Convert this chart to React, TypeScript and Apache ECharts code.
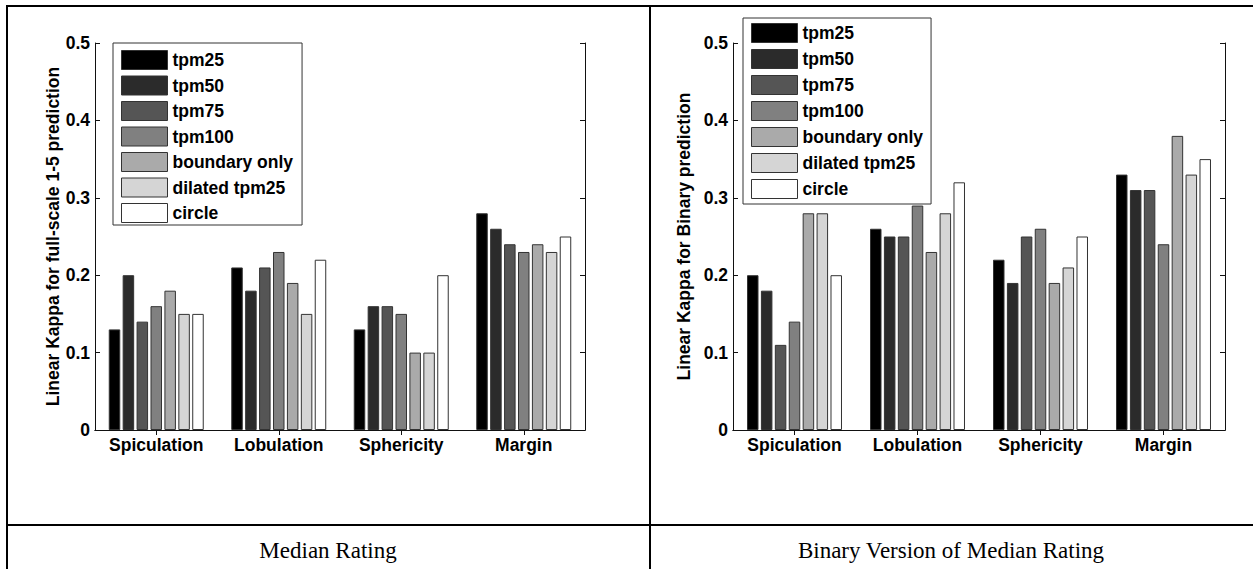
import React, { useEffect, useRef } from "react";
import * as echarts from "echarts";

const categories = ["Spiculation", "Lobulation", "Sphericity", "Margin"];
const seriesNames = ["tpm25", "tpm50", "tpm75", "tpm100", "boundary only", "dilated tpm25", "circle"];
const seriesColors = ["#000000", "#2b2b2b", "#555555", "#808080", "#aaaaaa", "#d5d5d5", "#ffffff"];

// Median Rating (full-scale 1-5)
const medianTpm25 = [0.13, 0.21, 0.13, 0.28];
const medianTpm50 = [0.2, 0.18, 0.16, 0.26];
const medianTpm75 = [0.14, 0.21, 0.16, 0.24];
const medianTpm100 = [0.16, 0.23, 0.15, 0.23];
const medianBoundary = [0.18, 0.19, 0.1, 0.24];
const medianDilated = [0.15, 0.15, 0.1, 0.23];
const medianCircle = [0.15, 0.22, 0.2, 0.25];

// Binary Version of Median Rating
const binaryTpm25 = [0.2, 0.26, 0.22, 0.33];
const binaryTpm50 = [0.18, 0.25, 0.19, 0.31];
const binaryTpm75 = [0.11, 0.25, 0.25, 0.31];
const binaryTpm100 = [0.14, 0.29, 0.26, 0.24];
const binaryBoundary = [0.28, 0.23, 0.19, 0.38];
const binaryDilated = [0.28, 0.28, 0.21, 0.33];
const binaryCircle = [0.2, 0.32, 0.25, 0.35];

const yTicks = [0, 0.1, 0.2, 0.3, 0.4, 0.5];
const leftTitle = "Linear Kappa for full-scale 1-5 prediction";
const rightTitle = "Linear Kappa for Binary prediction";
const captions = ["Median Rating", "Binary Version of Median Rating"];

const medianData = [medianTpm25, medianTpm50, medianTpm75, medianTpm100, medianBoundary, medianDilated, medianCircle];
const binaryData = [binaryTpm25, binaryTpm50, binaryTpm75, binaryTpm100, binaryBoundary, binaryDilated, binaryCircle];

const FONT = "'Liberation Sans', Arial, sans-serif";
const AX = "#111";

export default function App() {
  const ref = useRef<HTMLDivElement>(null);
  useEffect(() => {
    if (!ref.current) return;
    const chart = echarts.init(ref.current, undefined, { renderer: "svg" });

    const grids = [
      { left: 95, top: 43, width: 490, height: 387 },
      { left: 733, top: 43, width: 492, height: 387 },
    ];

    const xAxes: any[] = [];
    const yAxes: any[] = [];
    [0, 1].forEach((g) => {
      xAxes.push({
        type: "category",
        gridIndex: g,
        data: categories,
        position: "bottom",
        axisLine: { lineStyle: { color: AX, width: 1 } },
        axisTick: { show: false },
        axisLabel: { interval: 0, color: "#000", fontFamily: FONT, fontWeight: "bold", fontSize: 17.5, margin: 6 },
      });
      xAxes.push({
        type: "category",
        gridIndex: g,
        data: categories,
        position: "top",
        axisLine: { lineStyle: { color: AX, width: 1 } },
        axisTick: { show: true, inside: true, alignWithLabel: true, interval: 0, length: 5, lineStyle: { color: AX } },
        axisLabel: { show: false, interval: 0 },
      });
      yAxes.push({
        type: "value",
        gridIndex: g,
        min: yTicks[0],
        max: yTicks[yTicks.length - 1],
        interval: 0.1,
        position: "left",
        name: g === 0 ? leftTitle : rightTitle,
        nameLocation: "middle",
        nameGap: g === 0 ? 33 : 40,
        nameTextStyle: { color: "#000", fontFamily: FONT, fontWeight: "bold", fontSize: 17.5 },
        axisLine: { show: true, lineStyle: { color: AX, width: 1 } },
        axisTick: { show: true, inside: true, length: 5, lineStyle: { color: AX } },
        splitLine: { show: false },
        axisLabel: {
          color: "#000",
          fontFamily: FONT,
          fontWeight: "bold",
          fontSize: 17.5,
          margin: 5,
          formatter: (v: number) => (v === 0 ? "0" : v.toFixed(1)),
        },
      });
      yAxes.push({
        type: "value",
        gridIndex: g,
        min: yTicks[0],
        max: yTicks[yTicks.length - 1],
        interval: 0.1,
        position: "right",
        axisLine: { show: true, lineStyle: { color: AX, width: 1 } },
        axisTick: { show: true, inside: true, length: 5, lineStyle: { color: AX } },
        splitLine: { show: false },
        axisLabel: { show: false },
      });
    });

    const series: any[] = [];
    [medianData, binaryData].forEach((data, g) => {
      data.forEach((vals, i) => {
        series.push({
          type: "bar",
          name: seriesNames[i],
          xAxisIndex: g * 2,
          yAxisIndex: g * 2,
          data: vals,
          barWidth: 11.5,
          barGap: "21%",
          itemStyle: { color: seriesColors[i], borderColor: "#333", borderWidth: 1 },
          emphasis: { disabled: true },
        });
      });
    });

    const legendCommon = {
      orient: "vertical",
      data: seriesNames,
      icon: "rect",
      itemWidth: 46,
      itemHeight: 19,
      backgroundColor: "#fff",
      borderColor: "#333",
      borderWidth: 1,
      borderRadius: 0,
      selectedMode: false,
      itemStyle: { borderColor: "#333", borderWidth: 1 },
      textStyle: { color: "#000", fontFamily: FONT, fontWeight: "bold", fontSize: 17.5, lineHeight: 19 },
      z: 10,
    };

    const caps = captions.map((c, i) => ({
      type: "text",
      x: i === 0 ? 328 : 951,
      y: 550,
      style: {
        text: c,
        fill: "#000",
        font: "23px 'Liberation Serif', 'Times New Roman', serif",
        textAlign: "center",
        textVerticalAlign: "middle",
      },
    }));

    const line = (x1: number, y1: number, x2: number, y2: number) => ({
      type: "line",
      shape: { x1, y1, x2, y2 },
      style: { stroke: "#000", lineWidth: 2 },
      z: 20,
    });

    chart.setOption({
      animation: false,
      backgroundColor: "#fff",
      grid: grids,
      xAxis: xAxes,
      yAxis: yAxes,
      series,
      legend: [
        { ...legendCommon, left: 113, top: 43, itemGap: 5.5, padding: [7, 9, 2, 8] },
        { ...legendCommon, left: 743, top: 18, itemGap: 6, padding: [5, 8, 5, 8] },
      ],
      graphic: [
        line(6, 6, 1253, 6),
        line(7, 5, 7, 569),
        line(650, 5, 650, 569),
        line(6, 525, 1253, 525),
        ...caps,
      ],
    });
    return () => chart.dispose();
  }, []);
  return (
    <div
      ref={ref}
      style={{ position: "absolute", left: 0, top: 0, width: 1253, height: 569 }}
    />
  );
}
